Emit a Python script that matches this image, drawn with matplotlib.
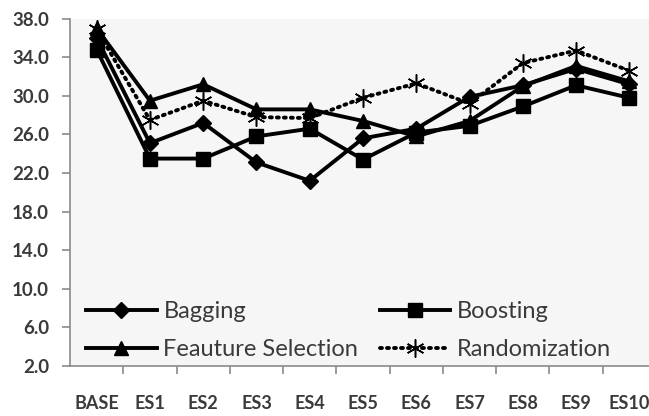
import numpy as np
import matplotlib
matplotlib.use('Agg')
import matplotlib.pyplot as plt

# data
categories = ['BASE', 'ES1', 'ES2', 'ES3', 'ES4', 'ES5', 'ES6', 'ES7', 'ES8', 'ES9', 'ES10']
bagging = [36.0, 25.1, 27.2, 23.1, 21.2, 25.6, 26.6, 29.9, 31.1, 32.8, 31.2]
boosting = [34.8, 23.5, 23.5, 25.8, 26.6, 23.4, 26.2, 26.9, 28.9, 31.1, 29.8]
feature_sel = [37.0, 29.5, 31.2, 28.6, 28.6, 27.4, 25.8, 27.4, 31.0, 33.1, 31.5]
randomization = [36.9, 27.5, 29.5, 27.8, 27.7, 29.8, 31.3, 29.2, 33.4, 34.7, 32.6]
yticks = [2, 6, 10, 14, 18, 22, 26, 30, 34, 38]

plt.rcParams['font.family'] = ['Lato', 'DejaVu Sans']

fig = plt.figure(figsize=(6.49, 4.16), dpi=100)
ax = fig.add_axes([70/649, 50/416, 586/649, 347.3/416])
ax.set_facecolor('#f6f6f6')

x = np.arange(len(categories))
lw = 2.8
ax.plot(x, bagging, color='black', lw=lw, marker='D', markersize=8.5, label='Bagging', zorder=3)
ax.plot(x, feature_sel, color='black', lw=lw, marker='^', markersize=10, label='Feauture Selection', zorder=3)
ax.plot(x, boosting, color='black', lw=lw, marker='s', markersize=9.5, label='Boosting', zorder=3)
ax.plot(x, randomization, color='black', lw=2.8, linestyle=(0, (0.5, 1.3)), dash_capstyle='round',
        marker=(6, 2, 0), markersize=13, markeredgewidth=1.1, label='Randomization', zorder=4)

ax.set_xlim(-0.5, len(categories) - 0.5)
ax.set_ylim(2, 38)
ax.set_yticks(yticks)
ax.set_yticklabels(['%.1f' % v for v in yticks])
ax.set_xticks(x)
ax.set_xticklabels(categories)
ax.set_xticks(np.arange(0.5, len(categories) - 0.5), minor=True)

for s in ['top', 'right']:
    ax.spines[s].set_visible(False)
for s in ['left', 'bottom']:
    ax.spines[s].set_color('#8a8a8a')
    ax.spines[s].set_linewidth(1.2)

ax.tick_params(axis='y', length=6, width=1.2, color='#8a8a8a', labelsize=13.5, labelcolor='#3a3a3a', pad=9)
ax.tick_params(axis='x', which='major', length=0, labelsize=13, labelcolor='#3a3a3a', pad=21)
ax.tick_params(axis='x', which='minor', length=6, width=1.2, color='#8a8a8a')
for lab in ax.get_xticklabels() + ax.get_yticklabels():
    lab.set_fontweight('bold')

leg = ax.legend(ncol=2, loc='lower left', bbox_to_anchor=(86/649, 56/416), bbox_transform=fig.transFigure,
                frameon=False, fontsize=17, handlelength=3.0, handletextpad=0.28,
                columnspacing=0.9, labelspacing=0.72, borderpad=0, borderaxespad=0)
for t in leg.get_texts():
    t.set_color('#3a3a3a')

fig.savefig('out.png', dpi=100)
